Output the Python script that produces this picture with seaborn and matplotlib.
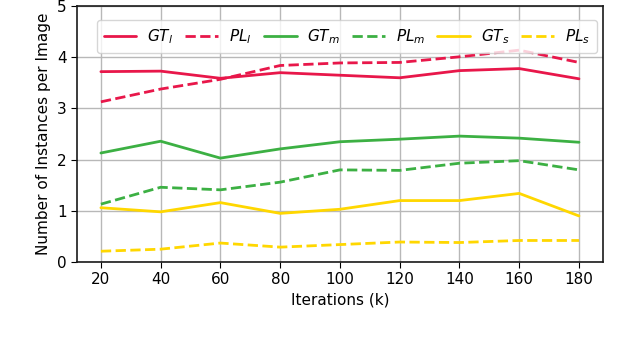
import pandas as pd
import numpy as np
import matplotlib
matplotlib.use("Agg")
import matplotlib.pyplot as plt
import seaborn as sns

iterations = [20, 40, 60, 80, 100, 120, 140, 160, 180]
gt_l = [3.72, 3.73, 3.59, 3.70, 3.65, 3.60, 3.74, 3.78, 3.58]
pl_l = [3.13, 3.38, 3.57, 3.84, 3.89, 3.90, 4.01, 4.14, 3.90]
gt_m = [2.13, 2.36, 2.03, 2.21, 2.35, 2.40, 2.46, 2.42, 2.34]
pl_m = [1.13, 1.46, 1.41, 1.56, 1.80, 1.79, 1.93, 1.98, 1.80]
gt_s = [1.06, 0.98, 1.16, 0.95, 1.03, 1.20, 1.20, 1.34, 0.90]
pl_s = [0.21, 0.25, 0.37, 0.29, 0.34, 0.39, 0.38, 0.42, 0.42]

labels = ["$GT_l$", "$PL_l$", "$GT_m$", "$PL_m$", "$GT_s$", "$PL_s$"]
colors = ["#e8174a", "#e8174a", "#3cb043", "#3cb043", "#ffd700", "#ffd700"]
styles = ["-", "--", "-", "--", "-", "--"]
series = [gt_l, pl_l, gt_m, pl_m, gt_s, pl_s]

sns.set_style("whitegrid", {"text.color": "black", "axes.labelcolor": "black",
                            "xtick.color": "black", "ytick.color": "black"})
plt.rcParams["font.family"] = ["DejaVu Sans"]

fig = plt.figure(figsize=(6.28, 3.42), dpi=100)
ax = fig.add_axes([0.1226, 0.234, 0.8374, 0.748])

for vals, lab, col, ls in zip(series, labels, colors, styles):
    df = pd.DataFrame({"it": iterations, "val": vals})
    sns.lineplot(data=df, x="it", y="val", ax=ax, color=col, linestyle=ls,
                 linewidth=2, label=lab)

ax.set_ylim(0, 5)
ax.set_xlim(12, 188)
ax.set_xticks(iterations)
ax.set_yticks([0, 1, 2, 3, 4, 5])
ax.tick_params(axis="both", labelsize=11, length=4, color="black", direction="out", bottom=True, left=True)
ax.set_xlabel("Iterations (k)", fontsize=11)
ax.set_ylabel("Number of Instances per Image", fontsize=11)
ax.grid(True, color="#b8b8b8", linewidth=1)
for side in ["left", "bottom", "top", "right"]:
    ax.spines[side].set_color("#1a1a1a")
    ax.spines[side].set_linewidth(1.2)

ax.legend(loc="upper center", ncol=6, fontsize=11, frameon=True,
          bbox_to_anchor=(0.513, 0.975), handlelength=2.15, columnspacing=0.8,
          borderpad=0.45, handletextpad=0.7)

fig.savefig("out.png", dpi=100)
